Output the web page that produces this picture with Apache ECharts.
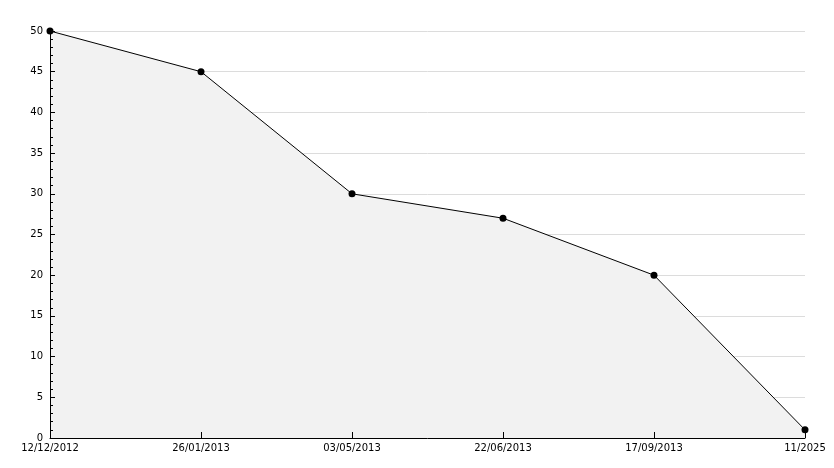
<!DOCTYPE html>
<html><head><meta charset="utf-8">
<script src="https://cdn.jsdelivr.net/npm/echarts@6/dist/echarts.min.js"></script>
<style>html,body{margin:0;padding:0;background:#fff}#c{width:834px;height:468px}</style>
</head><body><div id="c"></div>
<script>
const categories = ["12/12/2012","26/01/2013","03/05/2013","22/06/2013","17/09/2013","11/2025"];
const values = [50, 45, 30, 27, 20, 1];
const yMin = 0, yMax = 50, yInterval = 5;

const chart = echarts.init(document.getElementById('c'), null, {renderer:'canvas'});
chart.setOption({
  animation:false,
  backgroundColor:'#fff',
  grid:{left:50,right:29,top:31,bottom:30,containLabel:false},
  xAxis:{
    type:'category', data:categories, boundaryGap:false, z:10,
    axisLine:{lineStyle:{color:'#000',width:1}},
    axisTick:{show:true,inside:true,length:6,alignWithLabel:true,lineStyle:{color:'#000'}},
    axisLabel:{color:'#000',fontFamily:'DejaVu Sans',fontSize:10,margin:5,interval:0},
    splitLine:{show:false}
  },
  yAxis:[{
    type:'value', min:yMin, max:yMax, interval:yInterval, z:0,
    axisLine:{show:false},
    axisTick:{show:false},
    axisLabel:{show:false},
    splitLine:{show:true,lineStyle:{color:'#dcdcdc',width:1}}
  },{
    type:'value', min:yMin, max:yMax, interval:yInterval, z:10, position:'left', offset:0,
    axisLine:{show:true,onZero:false,lineStyle:{color:'#000',width:1}},
    axisTick:{show:true,inside:true,length:5,lineStyle:{color:'#000'}},
    minorTick:{show:true,splitNumber:5,length:3,lineStyle:{color:'#000'}},
    axisLabel:{color:'#000',fontFamily:'DejaVu Sans',fontSize:10,margin:7},
    splitLine:{show:false}
  }],
  series:[{
    type:'line', data:values, yAxisIndex:0,
    symbol:'circle', symbolSize:7,
    itemStyle:{color:'#000'},
    lineStyle:{color:'#000',width:1},
    areaStyle:{color:'#f2f2f2',opacity:1},
    z:3
  }]
});
</script></body></html>
